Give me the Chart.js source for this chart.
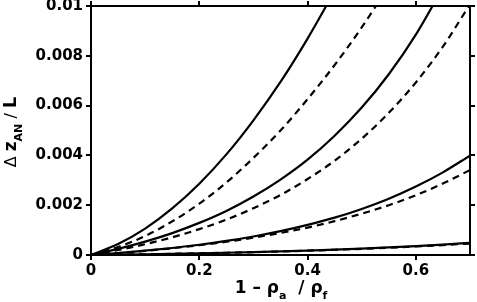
<!DOCTYPE html>
<html><head><meta charset="utf-8">
<style>html,body{margin:0;padding:0;background:#fff;}#wrap{width:477px;height:302px;position:relative}</style>
<script src="https://cdn.jsdelivr.net/npm/chart.js@4/dist/chart.umd.min.js"></script>
</head><body><div id="wrap"><canvas id="c" width="477" height="302"></canvas></div>
<script>
const xValues = [0,0.05,0.1,0.15,0.2,0.25,0.3,0.35,0.4,0.45,0.5,0.55,0.6,0.65,0.7];
const solid1 = [0,0.00044,0.00106,0.00187,0.00286,0.00404,0.00541,0.00695,0.00869,0.0106];
const dashed1 = [0,0.00032,0.00076,0.00135,0.00206,0.00291,0.0039,0.005,0.00626,0.00763,0.00914,0.0108];
const solid2 = [0,0.000245,0.000536,0.00088,0.00129,0.00177,0.00235,0.00303,0.00383,0.00479,0.00592,0.00726,0.00885,0.01074];
const dashed2 = [0,0.000199,0.000434,0.000711,0.00104,0.00142,0.00188,0.00241,0.00305,0.00379,0.00467,0.00571,0.00693,0.00837,0.01007];
const solid3 = [0,0.000079,0.000172,0.000282,0.000411,0.000564,0.000744,0.000957,0.00121,0.0015,0.00185,0.00226,0.00275,0.00332,0.00399];
const dashed3 = [0,0.000077,0.000167,0.00027,0.000391,0.000532,0.000695,0.000884,0.0011,0.00136,0.00166,0.002,0.0024,0.00287,0.00341];
const solid4 = [0,0.0000137,0.0000293,0.0000469,0.0000668,0.0000894,0.000115,0.000144,0.000177,0.000214,0.000256,0.000304,0.000359,0.00042,0.00049];
const dashed4 = [0,0.000014,0.0000297,0.0000473,0.0000672,0.0000894,0.000114,0.000142,0.000174,0.000209,0.000248,0.000292,0.000342,0.000397,0.00046];
const xTicks = [0,0.2,0.4,0.6];
const xTickLabels = ['0','0.2','0.4','0.6'];
const yTicks = [0,0.002,0.004,0.006,0.008,0.01];
const yTickLabels = ['0','0.002','0.004','0.006','0.008','0.01'];

const seriesList = [
  {v: solid1, dash: []}, {v: dashed1, dash: [7,5]},
  {v: solid2, dash: []}, {v: dashed2, dash: [7,5]},
  {v: solid3, dash: []}, {v: dashed3, dash: [7,5]},
  {v: solid4, dash: []}, {v: dashed4, dash: [7,5]}
];
const datasets = seriesList.map(s => ({
  data: s.v.map((y, i) => ({x: xValues[i], y: y})),
  borderColor: '#000',
  borderWidth: 2.2,
  borderDash: s.dash,
  pointRadius: 0,
  fill: false,
  cubicInterpolationMode: 'monotone'
}));

const tickFont = {family: '"DejaVu Sans"', weight: 'bold', size: 15};
const gridOpts = {drawOnChartArea: false, drawTicks: true, tickLength: 5, color: '#000', lineWidth: 2};
const borderOpts = {display: true, color: '#000', width: 2};

function setX(s){ s.ticks = xTicks.map(v => ({value: v})); }
function setY(s){ s.ticks = yTicks.map(v => ({value: v})); }

function drawParts(ctx, parts, cx, base){
  let total = 0;
  parts.forEach(p => { ctx.font = p.f; p.w = ctx.measureText(p.t).width; total += p.w; });
  let x = cx - total/2;
  parts.forEach(p => { ctx.font = p.f; ctx.fillText(p.t, x, base + p.dy); x += p.w; });
}

const titlePlugin = {
  id: 'titles',
  afterDraw(chart){
    const ctx = chart.ctx;
    ctx.save();
    ctx.fillStyle = '#000';
    ctx.textBaseline = 'alphabetic';
    ctx.textAlign = 'left';
    drawParts(ctx, [
      {t: '1 \u2013 \u03c1', f: 'bold 17px "DejaVu Sans"', dy: 0},
      {t: 'a', f: 'bold 11px "DejaVu Sans"', dy: 6},
      {t: '  / \u03c1', f: 'bold 17px "DejaVu Sans"', dy: 0},
      {t: 'f', f: 'bold 11px "DejaVu Sans"', dy: 6}
    ], 281, 293);
    ctx.translate(16, 132);
    ctx.rotate(-Math.PI/2);
    drawParts(ctx, [
      {t: '\u0394 ', f: '16px "DejaVu Sans"', dy: 0},
      {t: 'z', f: 'bold 17px "DejaVu Sans"', dy: 0},
      {t: 'AN', f: 'bold 11px "DejaVu Sans"', dy: 6},
      {t: ' / ', f: '16px "DejaVu Sans"', dy: 0},
      {t: 'L', f: 'bold 18px "DejaVu Sans"', dy: 0}
    ], 0, 0);
    ctx.restore();
  }
};

new Chart(document.getElementById('c'), {
  type: 'line',
  data: {datasets: datasets},
  plugins: [titlePlugin],
  options: {
    responsive: false,
    animation: false,
    events: [],
    layout: {padding: 0},
    plugins: {legend: {display: false}, tooltip: {enabled: false}},
    scales: {
      x: {
        type: 'linear', position: 'bottom', min: 0, max: 0.7,
        afterBuildTicks: setX,
        ticks: {callback: (v, i) => xTickLabels[i], font: tickFont, color: '#000', padding: 2, maxRotation: 0, autoSkip: false},
        grid: gridOpts, border: borderOpts,
        afterFit: s => { s.height = 47; s.paddingLeft = 0; s.paddingRight = 0; }
      },
      x2: {
        type: 'linear', position: 'top', min: 0, max: 0.7,
        afterBuildTicks: setX,
        ticks: {display: false},
        grid: gridOpts, border: borderOpts,
        afterFit: s => { s.height = 6; s.paddingLeft = 0; s.paddingRight = 0; }
      },
      y: {
        type: 'linear', position: 'left', min: 0, max: 0.01,
        afterBuildTicks: setY,
        ticks: {callback: (v, i) => yTickLabels[i], font: tickFont, color: '#000', padding: 3, autoSkip: false},
        grid: gridOpts, border: borderOpts,
        afterFit: s => { s.width = 91; s.paddingTop = 0; s.paddingBottom = 0; }
      },
      y2: {
        type: 'linear', position: 'right', min: 0, max: 0.01,
        afterBuildTicks: setY,
        ticks: {display: false},
        grid: gridOpts, border: borderOpts,
        afterFit: s => { s.width = 7; s.paddingTop = 0; s.paddingBottom = 0; }
      }
    }
  }
});
</script>
</body></html>
